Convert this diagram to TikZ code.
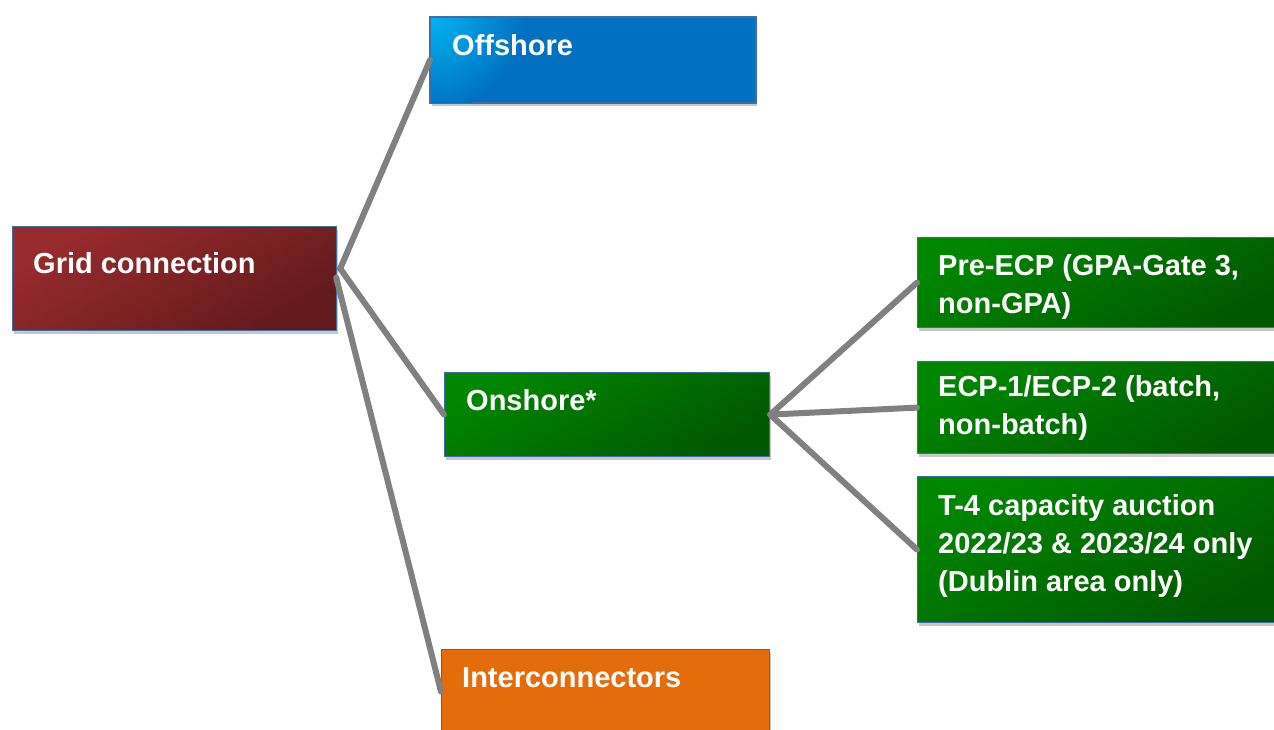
\documentclass[tikz,border=0pt]{standalone}
\usepackage{fontspec}
\setmainfont{Liberation Sans}
\usetikzlibrary{shadows,calc}
\definecolor{boxborder}{HTML}{3F6EA6}
\definecolor{redA}{HTML}{982B2D}
\definecolor{redB}{HTML}{621A1B}
\definecolor{blueA}{HTML}{00B4F2}
\definecolor{blueB}{HTML}{0070C0}
\definecolor{greenA}{HTML}{008600}
\definecolor{greenB}{HTML}{005800}
\definecolor{orangeA}{HTML}{E46C0A}
\definecolor{linegray}{HTML}{808080}
\begin{document}
\begin{tikzpicture}[x=1pt,y=-1pt,
  box/.style={draw=boxborder, line width=1.2pt, rectangle, inner sep=0pt, anchor=north west,
    drop shadow={shadow xshift=1.5pt, shadow yshift=-3pt, opacity=.22, fill=black}},
  redbox/.style={box, top color=redA, bottom color=redB, shading angle=30},
  bluebox/.style={box, fill=blueB},
  greenbox/.style={box, top color=greenA, bottom color=greenB, shading angle=30},
  orangebox/.style={box, fill=orangeA},
  txt/.style={text=white, font=\bfseries\fontsize{29}{38}\selectfont, inner sep=0pt, anchor=base west, align=left},
  conn/.style={draw=linegray, line width=6pt, line cap=round}]
\useasboundingbox (0,0) rectangle (1274,729);
\clip (0,0) rectangle (1274,729);

\node[redbox, minimum width=324pt, minimum height=104pt] (grid) at (12,226) {};
\node[bluebox, minimum width=325pt, minimum height=85pt] (off) at (430,17) {};
\begin{scope}
  \clip (off.north west) rectangle (off.south east);
  \shade[inner color=blueA, outer color=blueB] (off.north west) circle (95pt);
\end{scope}
\draw[boxborder, line width=1.2pt] (off.north west) rectangle (off.south east);
\node[greenbox, minimum width=325pt, minimum height=84pt] (on) at (444,372) {};
\node[orangebox, minimum width=328pt, minimum height=84pt] (inter) at (441,649) {};
\node[greenbox, minimum width=370pt, minimum height=90pt] (pre) at (917,237) {};
\node[greenbox, minimum width=370pt, minimum height=92pt] (ecp) at (917,361) {};
\node[greenbox, minimum width=370pt, minimum height=146pt] (t4) at (917,476) {};

\node[txt] (gridt) at (33,273) {Grid connection};
\node[txt] (offt) at (452,55) {Offshore};
\node[txt] (ont) at (466,410) {Onshore*};
\node[txt] (intert) at (462,687) {Interconnectors};
\node[txt] (pret) at (938,313) {Pre-ECP (GPA-Gate 3,\\non-GPA)};
\node[txt] (ecpt) at (938,434) {ECP-1/ECP-2 (batch,\\non-batch)};
\node[txt] (t4t) at (938,591) {T-4 capacity auction\\2022/23 \& 2023/24 only\\(Dublin area only)};

\coordinate (gA) at ($(grid.east)+(3,-10)$);
\coordinate (gB) at ($(grid.east)+(-1,-1)$);
\draw[conn] (gA) -- (off.west);
\draw[conn] (gA) -- (on.west);
\draw[conn] (gB) -- (inter.west);
\draw[conn] (on.east) -- (pre.west);
\draw[conn] (on.east) -- (ecp.west);
\draw[conn] (on.east) -- (t4.west);
\end{tikzpicture}
\end{document}
